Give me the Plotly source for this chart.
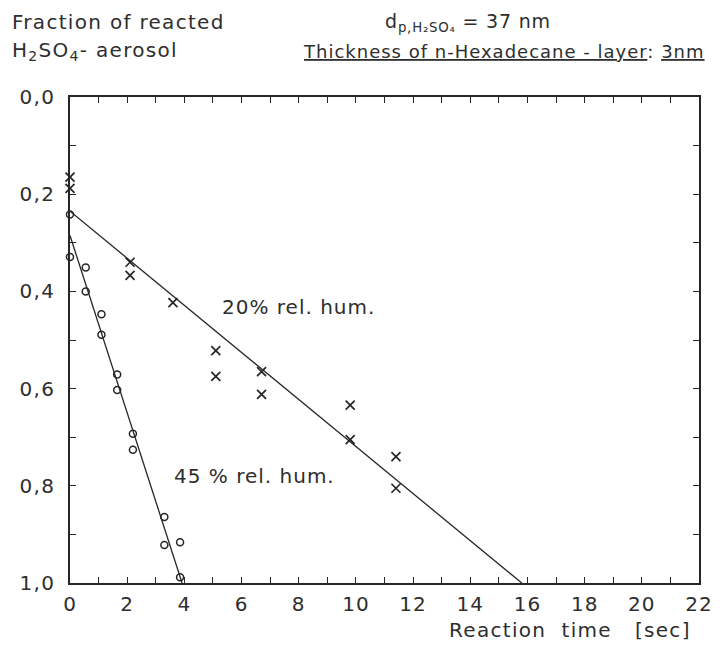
import plotly.graph_objects as go

# ---- data ----
t_20 = [0.0, 0.0, 2.1, 2.1, 3.6, 5.1, 5.1, 6.7, 6.7, 9.8, 9.8, 11.4, 11.4]
f_20 = [0.165, 0.188, 0.34, 0.367, 0.423, 0.522, 0.575, 0.565, 0.612, 0.634, 0.705, 0.74, 0.805]

t_45 = [0.0, 0.0, 0.55, 0.55, 1.1, 1.1, 1.65, 1.65, 2.2, 2.2, 3.3, 3.3, 3.85, 3.85]
f_45 = [0.242, 0.329, 0.351, 0.40, 0.447, 0.489, 0.571, 0.603, 0.693, 0.726, 0.864, 0.922, 0.916, 0.988]

fit_20_t = [0.0, 15.8]
fit_20_f = [0.235, 1.0]
fit_45_t = [0.0, 3.92]
fit_45_f = [0.285, 1.0]

x_tickvals = [0, 2, 4, 6, 8, 10, 12, 14, 16, 18, 20, 22]
x_ticktext = ["0", "2", "4", "6", "8", "10", "12", "14", "16", "18", "20", "22"]
y_tickvals = [0.0, 0.2, 0.4, 0.6, 0.8, 1.0]
y_ticktext = ["0,0", "0,2", "0,4", "0,6", "0,8", "1,0"]

FONT = "DejaVu Sans, sans-serif"
INK = "#262626"
TXT = "#2e2e2e"


def sp(s, px=1.3):
    return "<span style='letter-spacing:{}px'>{}</span>".format(px, s)


def fnt(size):
    return dict(family=FONT, size=size, color=TXT)


fig = go.Figure()
fig.add_trace(go.Scatter(x=fit_20_t, y=fit_20_f, mode="lines",
                         line=dict(color=INK, width=1.3), showlegend=False))
fig.add_trace(go.Scatter(x=fit_45_t, y=fit_45_f, mode="lines",
                         line=dict(color=INK, width=1.3), showlegend=False))
fig.add_trace(go.Scatter(x=t_20, y=f_20, mode="markers",
                         marker=dict(symbol="x-thin", size=9, line=dict(color=INK, width=1.7)),
                         showlegend=False, cliponaxis=False))
fig.add_trace(go.Scatter(x=t_45, y=f_45, mode="markers",
                         marker=dict(symbol="circle-open", size=7, color=INK, line=dict(color=INK, width=1.5)),
                         showlegend=False, cliponaxis=False))

axis_common = dict(showline=True, linecolor=INK, linewidth=1.5, mirror="ticks",
                   ticks="inside", ticklen=6, tickwidth=1.3, tickcolor=INK,
                   showgrid=False, zeroline=False, ticklabeloverflow="allow",
                   tickfont=fnt(20))

fig.update_xaxes(range=[0, 22], tickvals=x_tickvals, ticktext=[sp(s, 1.0) for s in x_ticktext],
                 minor=dict(dtick=1, tick0=0, ticks="inside", ticklen=6, tickwidth=1.3, tickcolor=INK),
                 ticklabelstandoff=2, **axis_common)
fig.update_yaxes(range=[1.0, 0.0], tickvals=y_tickvals, ticktext=[sp(s) for s in y_ticktext],
                 minor=dict(dtick=0.1, tick0=0, ticks="inside", ticklen=6, tickwidth=1.3, tickcolor=INK),
                 ticklabelstandoff=9, **axis_common)

fig.update_layout(
    width=725, height=650,
    margin=dict(l=70, r=13, t=97, b=67),
    paper_bgcolor="white", plot_bgcolor="white",
    font=dict(family=FONT, color=TXT),
    annotations=[
        dict(text=sp("Fraction of reacted"), x=-0.095, y=1.154, xref="paper", yref="paper",
             xanchor="left", yanchor="middle", showarrow=False, font=fnt(20)),
        dict(text=sp("H<sub>2</sub>SO<sub>4</sub>- aerosol"), x=-0.095, y=1.094, xref="paper", yref="paper",
             xanchor="left", yanchor="middle", showarrow=False, font=fnt(20)),
        dict(text=sp("d<sub>p,H₂SO₄</sub> = 37 nm", 0.8), x=0.633, y=1.154, xref="paper", yref="paper",
             xanchor="center", yanchor="middle", showarrow=False, font=fnt(19)),
        dict(text=sp("<u>Thickness of n-Hexadecane - layer</u>: <u>3nm</u>", 1.0), x=1.012, y=1.094,
             xref="paper", yref="paper", xanchor="right", yanchor="middle", showarrow=False,
             font=fnt(18)),
        dict(text=sp("Reaction  time   [sec]"), x=0.99, y=-0.097, xref="paper", yref="paper",
             xanchor="right", yanchor="middle", showarrow=False, font=fnt(20)),
        dict(text=sp("20% rel. hum.", 1.0), x=5.25, y=0.433, xref="x", yref="y",
             xanchor="left", yanchor="middle", showarrow=False, font=fnt(20)),
        dict(text=sp("45 % rel. hum.", 1.0), x=3.55, y=0.78, xref="x", yref="y",
             xanchor="left", yanchor="middle", showarrow=False, font=fnt(20)),
    ],
)

fig.write_html("out.html")
